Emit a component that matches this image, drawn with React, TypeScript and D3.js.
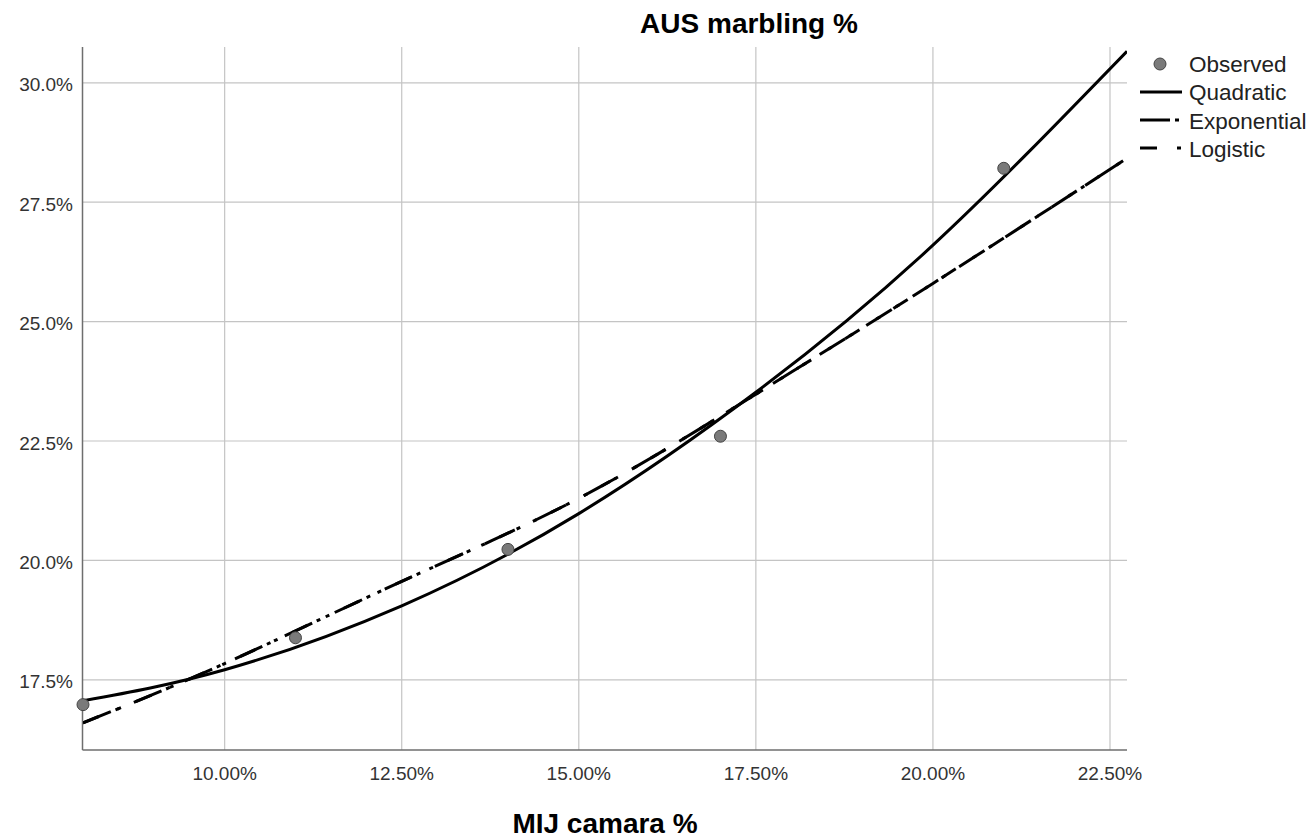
import React from "react";
import * as d3 from "d3";

// Observed data (MIJ camara %, AUS marbling %)
const obsX = [8, 11, 14, 17, 21];
const obsY = [16.98, 18.38, 20.23, 22.6, 28.21];

// Fitted curves at sample x positions
const fitX = [8, 10, 12.5, 15, 17.5, 20, 22.74];
const quadraticY = [17.06, 17.71, 19.05, 20.98, 23.52, 26.6, 30.66];
const exponentialY = [16.6, 17.84, 19.56, 21.3, 23.48, 25.8, 28.42];
const logisticY = [16.6, 17.84, 19.56, 21.3, 23.48, 25.8, 28.42];

const xTicks = [10, 12.5, 15, 17.5, 20, 22.5];
const yTicks = [17.5, 20, 22.5, 25, 27.5, 30];

const legendLabels = ["Observed", "Quadratic", "Exponential", "Logistic"];

export default function App() {
  const W = 1313, H = 838;
  const left = 83, right = 1127, top = 47, bottom = 750;
  const x = d3.scaleLinear().domain([8, 22.74]).range([left, right]);
  const y = d3.scaleLinear().domain([16.03, 30.75]).range([bottom, top]);

  const line = d3
    .line<[number, number]>()
    .x((d) => x(d[0]))
    .y((d) => y(d[1]))
    .curve(d3.curveNatural);

  const pts = (ys: number[]) => fitX.map((v, i) => [v, ys[i]] as [number, number]);

  const font = "'Liberation Sans', Arial, sans-serif";
  const expDash = "30 5 4 16";
  const logDash = "17 20 4 16";
  const curves = [
    { ys: quadraticY, dash: "none" },
    { ys: exponentialY, dash: expDash },
    { ys: logisticY, dash: logDash },
  ];

  return (
    <svg
      width={W}
      height={H}
      style={{ position: "absolute", left: 0, top: 0, background: "#fff" }}
      fontFamily={font}
    >
      <defs>
        <clipPath id="plotClip">
          <rect x={left} y={top} width={right - left} height={bottom - top} />
        </clipPath>
      </defs>

      {/* gridlines */}
      {xTicks.map((t) => (
        <line key={"gx" + t} x1={x(t)} x2={x(t)} y1={top} y2={bottom} stroke="#c4c4c4" strokeWidth={1.2} />
      ))}
      {yTicks.map((t) => (
        <line key={"gy" + t} x1={left} x2={right} y1={y(t)} y2={y(t)} stroke="#c4c4c4" strokeWidth={1.2} />
      ))}

      {/* axes */}
      <line x1={left - 0.5} x2={left - 0.5} y1={top} y2={bottom} stroke="#6e6e6e" strokeWidth={1.5} />
      <line x1={left - 0.5} x2={right} y1={bottom} y2={bottom} stroke="#6e6e6e" strokeWidth={1.5} />

      {/* tick labels */}
      {yTicks.map((t) => (
        <text key={"ty" + t} x={73} y={y(t)} dy="0.45em" textAnchor="end" fontSize={19} fill="#333">
          {t.toFixed(1) + "%"}
        </text>
      ))}
      {xTicks.map((t) => (
        <text key={"tx" + t} x={x(t)} y={780} textAnchor="middle" fontSize={19} fill="#333">
          {t.toFixed(2) + "%"}
        </text>
      ))}

      {/* curves */}
      <g clipPath="url(#plotClip)">
        {curves.map((c, i) => (
          <path
            key={"c" + i}
            d={line(pts(c.ys)) || ""}
            fill="none"
            stroke="#000"
            strokeWidth={3}
            strokeDasharray={c.dash}
          />
        ))}
      </g>

      {/* observed points */}
      {obsX.map((v, i) => (
        <circle key={"p" + i} cx={x(v)} cy={y(obsY[i])} r={6} fill="#7a7a7a" stroke="#444" strokeWidth={1} />
      ))}

      {/* titles */}
      <text x={749} y={33} textAnchor="middle" fontSize={28} fontWeight="bold" fill="#000">
        AUS marbling %
      </text>
      <text x={605} y={833} textAnchor="middle" fontSize={28} fontWeight="bold" fill="#000">
        MIJ camara %
      </text>

      {/* legend */}
      <g>
        <circle cx={1160} cy={64} r={6} fill="#7a7a7a" stroke="#444" strokeWidth={1} />
        {[
          { y: 92, dash: "none" },
          { y: 120, dash: expDash },
          { y: 148, dash: logDash },
        ].map((l, i) => (
          <line
            key={"ll" + i}
            x1={1140}
            x2={1182}
            y1={l.y}
            y2={l.y}
            stroke="#000"
            strokeWidth={3}
            strokeDasharray={l.dash}
          />
        ))}
        {legendLabels.map((lab, i) => (
          <text key={"lt" + i} x={1189} y={64 + i * 28.3} dy="0.36em" fontSize={22.5} fill="#222">
            {lab}
          </text>
        ))}
      </g>
    </svg>
  );
}
